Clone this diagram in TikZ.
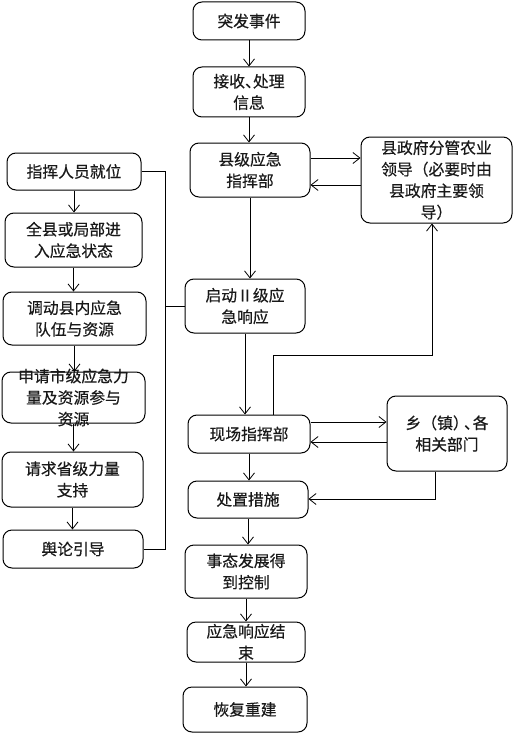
\documentclass[tikz,border=0pt]{standalone}
\usepackage{fontspec}
\setmainfont{Noto Sans CJK SC}[FakeBold=0.4]
\usetikzlibrary{arrows.meta,calc}
\newcommand{\mybox}[6]{%
  \node[box,minimum width=#4pt,minimum height=#5pt] (#1) at (#2,#3) {};
  \node[txt] (#1-t) at (#1) {#6};}
\begin{document}
\begin{tikzpicture}[x=1pt,y=-1pt,
  box/.style={draw=black, fill=white, line width=1pt, rounded corners=9pt, inner sep=0pt},
  txt/.style={align=center, font=\fontsize{15.8}{21.5}\selectfont, text=black!90, inner sep=0pt},
  arr/.style={draw=black, line width=0.8pt, -{Straight Barb[length=7pt,width=11pt]}},
  ln/.style={draw=black, line width=0.8pt}]
\useasboundingbox (0,0) rectangle (513,733);
% centre column
\mybox{ev}{249}{21}{112}{38}{突发事件}
\mybox{rx}{249}{92}{112}{50}{接收、\kern-0.5em处理\\信息}
\mybox{cmd}{250}{170}{120}{54}{县级应急\\指挥部}
\mybox{gov}{436.5}{180}{151}{86}{县政府分管农业\\领导（必要时由\\县政府主要领\\导）}
\mybox{lv}{245}{306}{120}{54}{启动Ⅱ级应\\急响应}
\mybox{site}{249}{434}{122}{38}{现场指挥部}
\mybox{town}{447}{433.5}{120}{75}{乡（镇）\kern-0.3em、\kern-0.45em各\\相关部门}
\mybox{act}{248}{499.5}{120}{37}{处置措施}
\mybox{ctrl}{246}{571.5}{122}{53}{事态发展得\\到控制}
\mybox{fin}{246}{642}{118}{40}{应急响应结\\束}
\mybox{rec}{245}{709.5}{124}{45}{恢复重建}
% left column
\mybox{l1}{74}{171.5}{134}{37}{指挥人员就位}
\mybox{l2}{73.5}{240}{137}{54}{全县或局部进\\入应急状态}
\mybox{l3}{74.5}{318.5}{143}{53}{调动县内应急\\队伍与资源}
\mybox{l4}{73.5}{397.5}{143}{51}{申请市级应急力\\量及资源参与\\资源}
\mybox{l5}{72.5}{479.5}{141}{55}{请求省级力量\\支持}
\mybox{l6}{73}{549}{140}{38}{舆论引导}
% helper coordinates
\coordinate (bt) at (165,171);
\coordinate (up) at (0,158);
\coordinate (dn) at (0,185);
\coordinate (sg) at (273,355);
\coordinate (sg2) at (432,355);
\coordinate (tu) at (0,422);
\coordinate (td) at (0,442);
\coordinate (ta) at (435,499);
% centre arrows
\draw[arr] (ev.south) -- (ev.south |- rx.north);
\draw[arr] (rx.south) -- (rx.south |- cmd.north);
\draw[arr] (cmd.south) -- (cmd.south |- lv.north);
\draw[arr] (cmd.east |- up) -- (gov.west |- up);
\draw[arr] (gov.west |- dn) -- (cmd.east |- dn);
\draw[arr] (lv.south) -- (lv.south |- site.north);
\draw[arr] (site.north -| sg) -- (sg) -- (sg2) -- (sg2 |- gov.south);
\draw[arr] (site.east |- tu) -- (town.west |- tu);
\draw[arr] (town.west |- td) -- (site.east |- td);
\draw[arr] (site.south) -- (site.south |- act.north);
\draw[arr] (town.south -| ta) -- (ta) -- (act.east |- ta);
\draw[arr] (act.south) -- (act.south |- ctrl.north);
\draw[arr] (ctrl.south) -- (ctrl.south |- fin.north);
\draw[arr] (fin.south) -- (fin.south |- rec.north);
% left arrows
\draw[arr] (l1.south) -- (l1.south |- l2.north);
\draw[arr] (l2.south) -- (l2.south |- l3.north);
\draw[arr] (l3.south) -- (l3.south |- l4.north);
\draw[arr] (l4.south) -- (l4.south |- l5.north);
\draw[arr] (l5.south) -- (l5.south |- l6.north);
% bracket
\draw[ln] (l1.east) -- (l1.east -| bt) -- (l6.east -| bt) -- (l6.east);
\draw[ln] (lv.west -| bt) -- (lv.west);
\end{tikzpicture}
\end{document}
